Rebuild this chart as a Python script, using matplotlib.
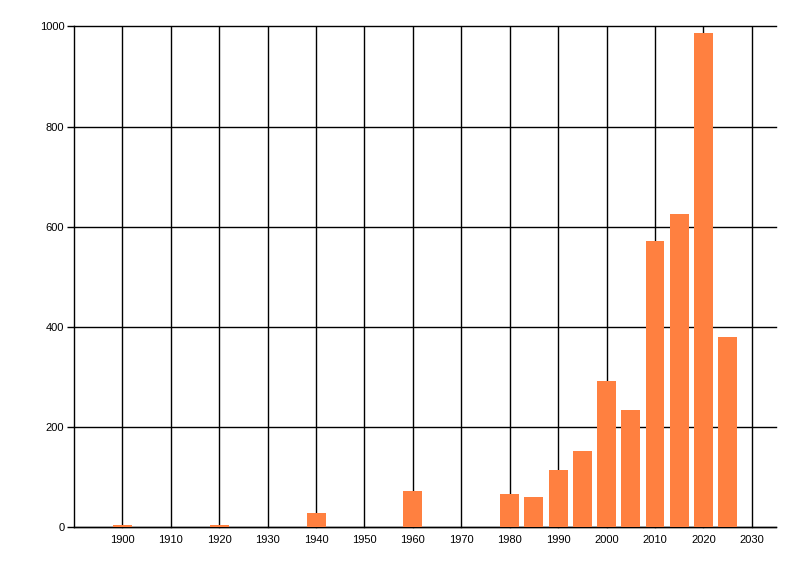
import matplotlib
matplotlib.use("Agg")
import matplotlib.pyplot as plt

# Datos
years = [1900, 1920, 1940, 1960, 1980, 1985, 1990, 1995, 2000, 2005, 2010, 2015, 2020, 2025]
counts = [4, 4, 28, 72, 66, 60, 114, 152, 291, 233, 572, 626, 988, 379]
x_ticks = list(range(1900, 2031, 10))
y_ticks = [0, 200, 400, 600, 800, 1000]

plt.rcParams['font.family'] = ['Liberation Sans', 'DejaVu Sans']

fig = plt.figure(figsize=(8, 5.76), dpi=100)
ax = fig.add_axes([74 / 800, 1 - 527 / 576, (776 - 74) / 800, (527 - 26.5) / 576])

ax.bar(years, counts, width=3.9, color='#FF8040', zorder=3)

ax.set_xlim(1890, 2035)
ax.set_ylim(0, 1000)
ax.set_xticks(x_ticks)
ax.set_yticks(y_ticks)
ax.tick_params(axis='x', length=0, labelsize=8, pad=6)
ax.tick_params(axis='y', length=5, width=1, labelsize=8, pad=2)

# Cuadricula negra
ax.grid(True, color='black', linewidth=1)
ax.set_axisbelow(True)
for line in ax.get_xgridlines() + ax.get_ygridlines():
    line.set_clip_on(False)

for s in ['top', 'right']:
    ax.spines[s].set_visible(False)
ax.spines['left'].set_linewidth(1)
ax.spines['bottom'].set_linewidth(1)

fig.savefig('out.png', dpi=100)
